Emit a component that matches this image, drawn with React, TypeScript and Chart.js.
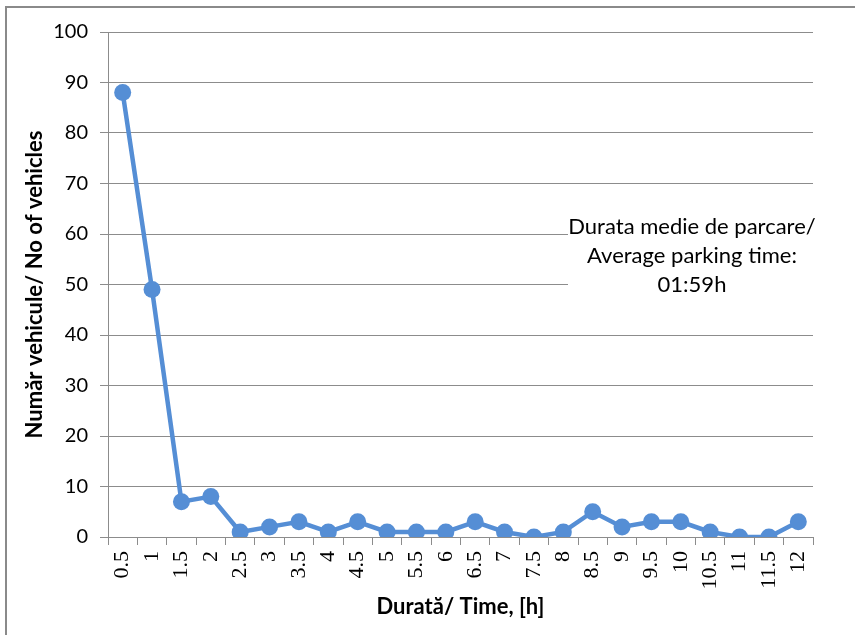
import React, { useEffect, useRef } from "react";
import { Chart, registerables } from "chart.js";

Chart.register(...registerables);

const categories = ["0.5","1","1.5","2","2.5","3","3.5","4","4.5","5","5.5","6","6.5","7","7.5","8","8.5","9","9.5","10","10.5","11","11.5","12"];
const vehicles = [88, 49, 7, 8, 1, 2, 3, 1, 3, 1, 1, 1, 3, 1, 0, 1, 5, 2, 3, 3, 1, 0, 0, 3];
const yTitle = "Număr vehicule/ No of vehicles";
const xTitle = "Durată/ Time, [h]";
const noteLines = ["Durata medie de parcare/", "Average parking time:", "01:59h"];

const SANS = "Lato, 'Open Sans', sans-serif";
const SERIF = "'Liberation Serif', serif";
const GRID = "#8c8c8c";
const BLUE = "#558ED5";

const decorPlugin = {
  id: "decor",
  beforeDraw(chart: any) {
    const ctx = chart.ctx;
    ctx.save();
    ctx.fillStyle = "#ffffff";
    ctx.fillRect(0, 0, chart.width, chart.height);
    ctx.strokeStyle = "#8a8a8a";
    ctx.lineWidth = 2;
    ctx.strokeRect(6, 7, chart.width + 20, chart.height + 20);
    ctx.restore();
  },
  afterDatasetsDraw(chart: any) {
    const ctx = chart.ctx;
    ctx.save();
    ctx.fillStyle = "#ffffff";
    ctx.fillRect(568, 208, 256, 92);
    ctx.fillStyle = "#000000";
    ctx.font = "22px " + SANS;
    ctx.textAlign = "center";
    ctx.textBaseline = "middle";
    noteLines.forEach((t, i) => ctx.fillText(t, 692, 227 + i * 29));
    ctx.restore();
  },
};

export default function App() {
  const ref = useRef<HTMLCanvasElement>(null);
  useEffect(() => {
    document.body.style.margin = "0";
    const chart = new Chart(ref.current!, {
      type: "line",
      data: {
        labels: categories,
        datasets: [
          {
            data: vehicles,
            borderColor: BLUE,
            backgroundColor: BLUE,
            borderWidth: 4.5,
            pointRadius: 8.5,
            pointHoverRadius: 8.5,
            pointBackgroundColor: BLUE,
            pointBorderColor: BLUE,
            pointBorderWidth: 0,
            tension: 0,
          },
        ],
      },
      options: {
        animation: false,
        responsive: false,
        events: [],
        layout: { padding: { top: 32, right: 42, left: 0, bottom: 0 } },
        plugins: { legend: { display: false }, tooltip: { enabled: false } },
        scales: {
          x: {
            type: "category",
            offset: true,
            grid: {
              drawOnChartArea: false,
              drawTicks: true,
              tickLength: 8,
              color: GRID,
              offset: true,
            },
            border: { color: GRID, width: 1 },
            ticks: {
              maxRotation: 90,
              minRotation: 90,
              autoSkip: false,
              padding: 6,
              color: "#000",
              font: { family: SERIF, size: 22 },
            },
            title: {
              display: true,
              text: xTitle,
              color: "#000",
              font: { family: SANS, size: 22, weight: "bold" },
              padding: { top: 0, bottom: 15 },
            },
            afterFit(scale: any) {
              scale.height = 98;
            },
          },
          y: {
            min: 0,
            max: 100,
            ticks: {
              stepSize: 10,
              padding: 12,
              color: "#000",
              font: { family: SANS, size: 20 },
            },
            grid: { color: GRID, tickLength: 8 },
            border: { color: GRID, width: 1 },
            title: {
              display: true,
              text: yTitle,
              color: "#000",
              font: { family: SANS, size: 22, weight: "bold" },
              padding: { top: 22, bottom: 0 },
            },
            afterFit(scale: any) {
              scale.width = 108;
            },
          },
        },
      },
      plugins: [decorPlugin],
    } as any);
    return () => chart.destroy();
  }, []);
  return (
    <div style={{ position: "absolute", left: 0, top: 0, width: 855, height: 635 }}>
      <canvas ref={ref} width={855} height={635} style={{ width: 855, height: 635, display: "block" }} />
    </div>
  );
}
